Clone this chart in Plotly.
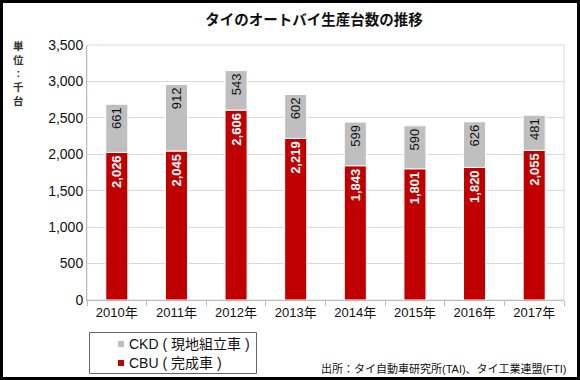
import plotly.graph_objects as go

years = ["2010年", "2011年", "2012年", "2013年", "2014年", "2015年", "2016年", "2017年"]
cbu = [2026, 2045, 2606, 2219, 1843, 1801, 1820, 2055]
ckd = [661, 912, 543, 602, 599, 590, 626, 481]
y_ticks = [0, 500, 1000, 1500, 2000, 2500, 3000, 3500]
legend_names = ["CKD ( 現地組立車 )", "CBU ( 完成車 )"]

RED = "#C00000"
GRAY = "#BFBFBF"
FONT = "Liberation Sans, Arial, Noto Sans CJK JP"

fig = go.Figure()
fig.add_trace(go.Bar(
    x=years, y=cbu, name=legend_names[1], marker=dict(color=RED, line=dict(color="white", width=1)),
    width=0.37, texttemplate="%{y:,}", textposition="inside", insidetextanchor="end",
    textangle=-90, constraintext="none",
    textfont=dict(color="white", size=13, family=FONT, weight="bold"), showlegend=False,
))
fig.add_trace(go.Bar(
    x=years, y=ckd, name=legend_names[0], marker=dict(color=GRAY, line=dict(color="white", width=1)),
    width=0.37, texttemplate="%{y:,}", textposition="inside", insidetextanchor="end",
    textangle=-90, constraintext="none",
    textfont=dict(color="#111111", size=13, family=FONT), showlegend=False,
))

L, R, T, B = 87, 16, 45, 80
PW, PH = 580 - L - R, 380 - T - B

def px(xp):
    return (xp - L) / PW

def py(yp):
    return (380 - B - yp) / PH

fig.update_layout(
    width=580, height=380,
    margin=dict(l=L, r=R, t=T, b=B, autoexpand=False),
    barmode="relative",
    plot_bgcolor="white", paper_bgcolor="white",
    font=dict(family=FONT, size=13, color="#222222"),
    showlegend=False,
    title=dict(text="<b>タイのオートバイ生産台数の推移</b>", x=px(314), xref="paper", xanchor="center",
               y=1 - 19.5 / 380, yanchor="middle", font=dict(size=14.5, color="#111111")),
)
fig.update_xaxes(
    showline=True, linecolor="#BBBBBB", ticks="outside", tickson="boundaries",
    ticklen=5, tickcolor="#BBBBBB", mirror=False, automargin=False,
    tickfont=dict(size=13, color="#111111"),
)
fig.update_yaxes(
    range=[0, 3500], tickvals=y_ticks, tickformat=",", showgrid=True,
    gridcolor="#D9D9D9", showline=True, linecolor="#BBBBBB", automargin=False,
    tickfont=dict(size=14, color="#111111"), ticks="", zeroline=False,
)
# plot-area border
fig.add_shape(type="rect", xref="paper", yref="paper", x0=0, x1=1, y0=0, y1=1,
              line=dict(color="#D9D9D9", width=1), layer="below")
# outer frame
fig.add_shape(type="rect", xref="paper", yref="paper",
              x0=px(1.5), x1=px(578.5), y0=py(378.5), y1=py(1.5),
              line=dict(color="black", width=3))

# legend box (manual)
fig.add_shape(type="rect", xref="paper", yref="paper",
              x0=px(89.5), x1=px(256.5), y0=py(373.5), y1=py(332.5),
              line=dict(color="#666666", width=1), fillcolor="white")
for name, color, yc in [(legend_names[0], GRAY, 344), (legend_names[1], RED, 363)]:
    fig.add_shape(type="rect", xref="paper", yref="paper",
                  x0=px(118), x1=px(124), y0=py(yc + 3), y1=py(yc - 3),
                  line=dict(width=0), fillcolor=color)
    fig.add_annotation(text=name, xref="paper", yref="paper",
                       x=px(127), y=py(yc), xanchor="left", yanchor="middle",
                       showarrow=False, font=dict(size=14, color="#111111"))

fig.add_annotation(text="<b>単<br>位<br>:<br>千<br>台</b>", xref="paper", yref="paper",
                   x=px(18), y=py(73.5), xanchor="center", yanchor="middle", align="center",
                   showarrow=False, font=dict(size=10.5, color="#333333"))
fig.add_annotation(text="出所：タイ自動車研究所(TAI)、タイ工業連盟(FTI)", xref="paper", yref="paper",
                   x=px(568), y=py(368), xanchor="right", yanchor="middle",
                   showarrow=False, font=dict(size=11, color="#111111"))

fig.write_html("out.html", config={"displayModeBar": False},
               post_script="document.body.style.margin='0';document.body.style.overflow='hidden';")
